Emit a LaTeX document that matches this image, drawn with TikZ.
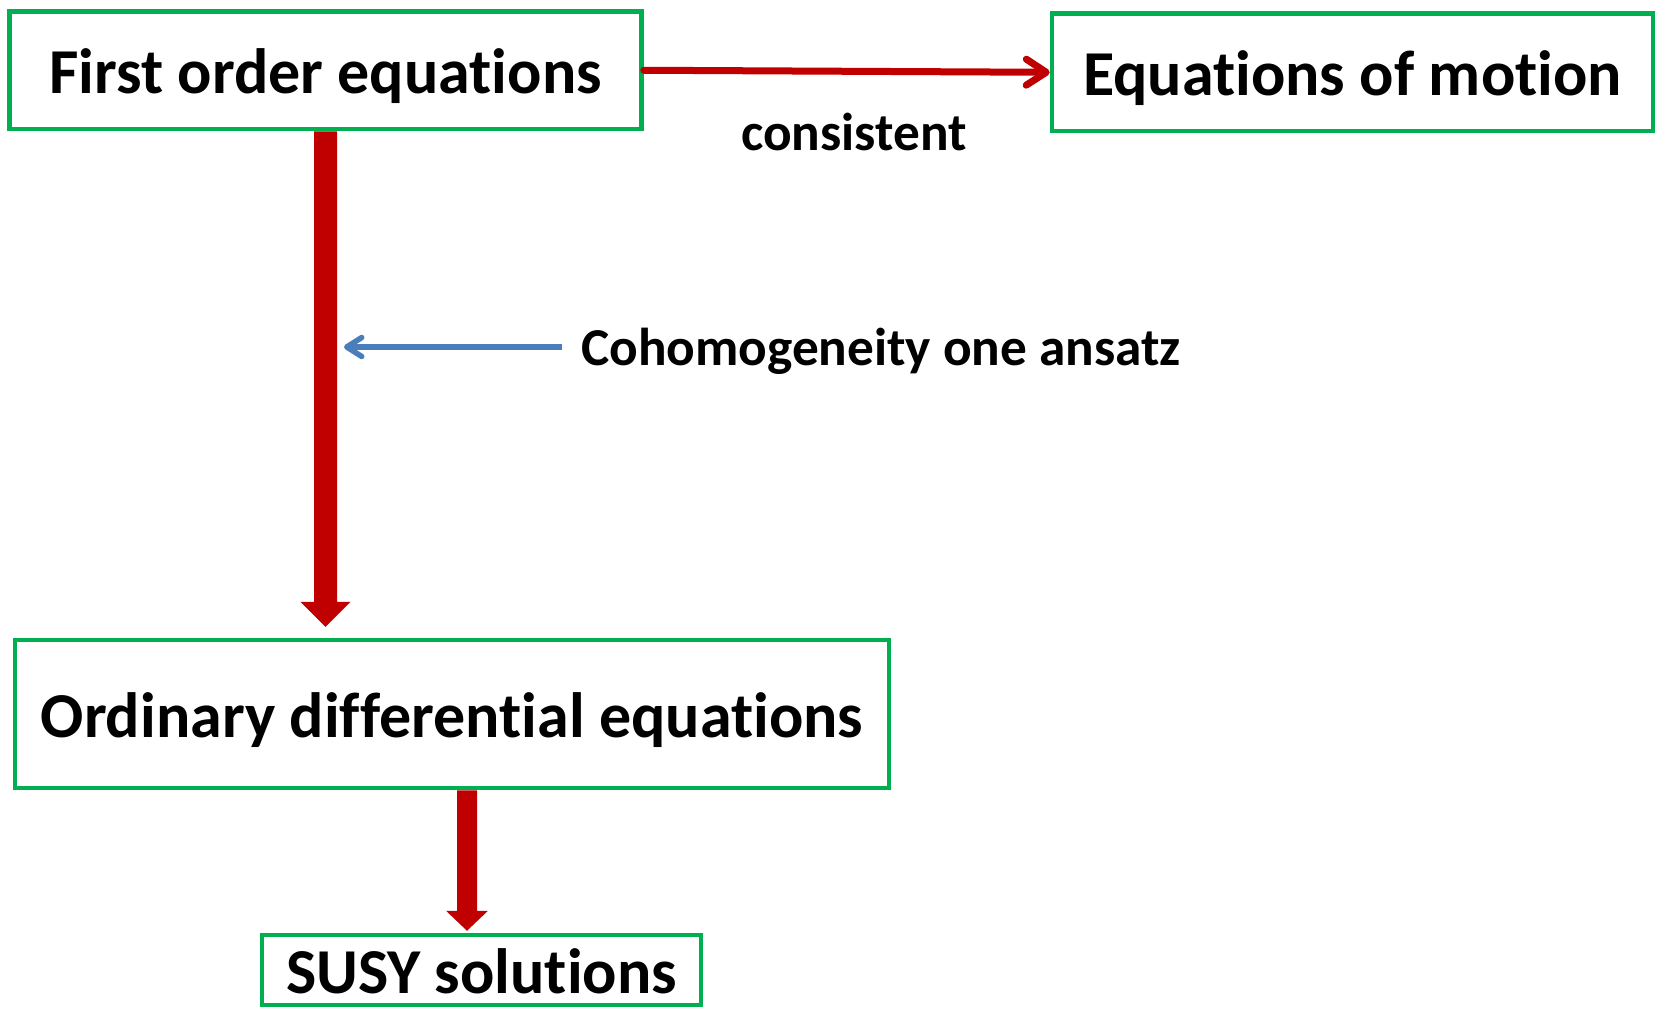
\documentclass[tikz,border=0pt]{standalone}
\usepackage{fontspec}
\setmainfont{Carlito}[Ligatures=NoCommon,RawFeature={-liga;-calt;-clig;-dlig}]
\usetikzlibrary{calc,arrows.meta}
\definecolor{boxgreen}{HTML}{00B050}
\definecolor{darkred}{HTML}{C00000}
\definecolor{arrowblue}{HTML}{4A7EBB}
\tikzset{
  eqbox/.style={draw=boxgreen, line width=4.5pt, inner sep=0pt, align=center,
    text height=46pt, text depth=0pt,
    font=\fontsize{64}{70}\selectfont\bfseries},
  smalllabel/.style={inner sep=0pt, font=\fontsize{53.3}{60}\selectfont\bfseries},
  thinred/.style={draw=darkred, line width=7pt, line cap=round,
    -{Straight Barb[length=20pt,width=26pt,round]}},
  thinblue/.style={draw=arrowblue, line width=5.5pt,
    -{Straight Barb[length=15pt,width=19pt,round]}},
  blockarrow/.style={fill=darkred, draw=none}
}
\begin{document}
\begin{tikzpicture}[x=1pt,y=1pt]
\useasboundingbox (0,0) rectangle (1657,-1009);
% boxes
\node[eqbox, minimum width=632pt, minimum height=117.5pt] (fo) at (325.5,-70.25) {First order equations};
\node[eqbox, minimum width=601pt, minimum height=117.4pt] (eom) at (1352.5,-72.3) {Equations of motion};
\node[eqbox, minimum width=874pt, minimum height=148pt] (odr) at (452,-714) {Ordinary differential equations};
\node[eqbox, minimum width=439pt, minimum height=70pt] (susy) at (481.5,-970) {SUSY solutions};
% labels
\node[smalllabel, anchor=base] (cons) at (854,-150) {consistent};
\node[smalllabel, anchor=base west] (coh) at (581,-365) {Cohomogeneity one ansatz};
% consistent arrow
\draw[thinred] (fo.east) -- (eom.west);
% big arrow 1
\coordinate (t1) at ($(fo.south |- odr.north)+(0,11)$);
\fill[blockarrow] ($(fo.south)+(-11.5,0)$) -- ($(t1)+(-11.5,25)$) -- ($(t1)+(-25,25)$) -- (t1)
  -- ($(t1)+(25,25)$) -- ($(t1)+(11.5,25)$) -- ($(fo.south)+(11.5,0)$) -- cycle;
% big arrow 2
\coordinate (t2) at ($(susy.north)+(-14.5,2)$);
\coordinate (s2) at (t2 |- odr.south);
\fill[blockarrow] ($(s2)+(-10,0)$) -- ($(t2)+(-10,20)$) -- ($(t2)+(-21,20)$) -- (t2)
  -- ($(t2)+(21,20)$) -- ($(t2)+(10,20)$) -- ($(s2)+(10,0)$) -- cycle;
% blue arrow
\coordinate (bt) at ($(fo.south |- coh.base)+(18.5,18)$);
\draw[thinblue] ($(coh.base west)+(-19,18)$) -- (bt);
\end{tikzpicture}
\end{document}
